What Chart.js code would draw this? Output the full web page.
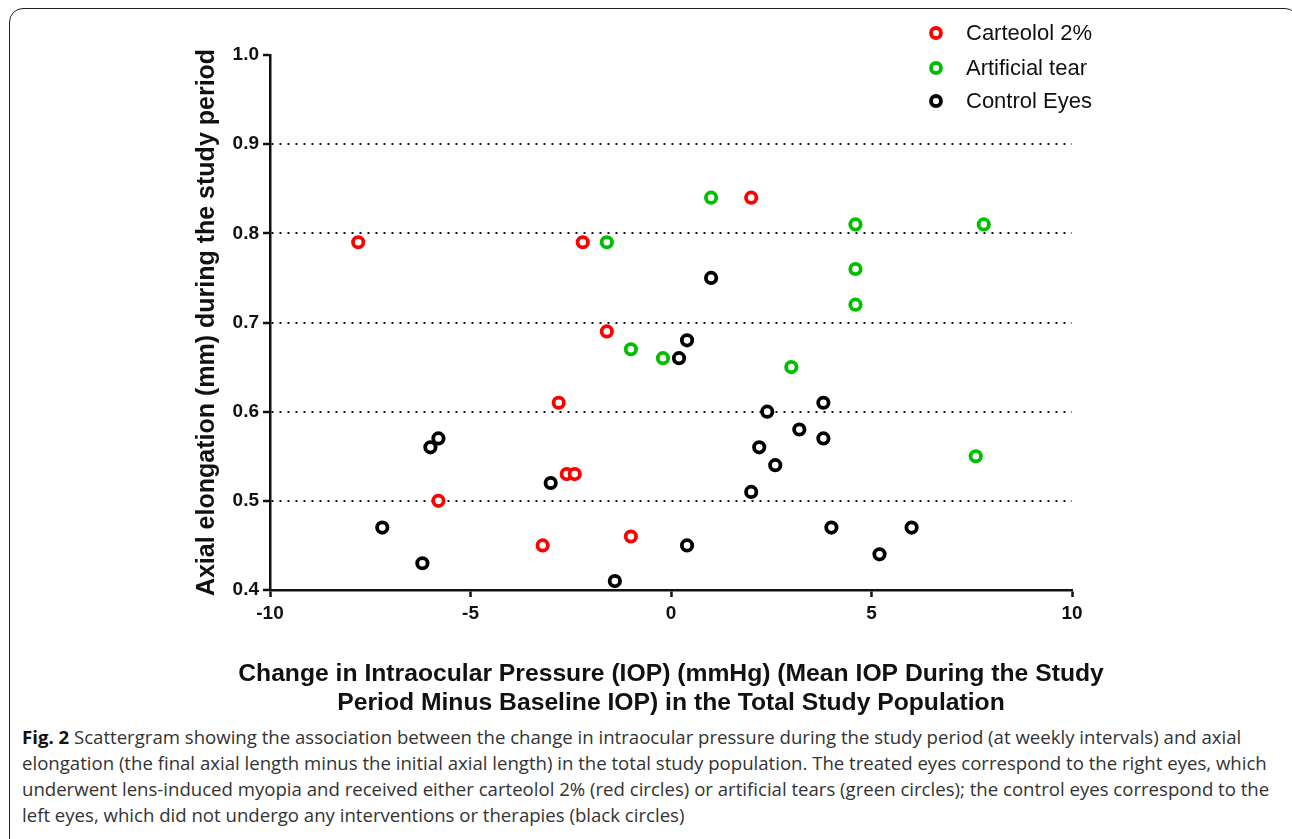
<!DOCTYPE html>
<html>
<head>
<meta charset="utf-8">
<script src="https://cdn.jsdelivr.net/npm/chart.js@4/dist/chart.umd.min.js"></script>
<style>
    body { margin: 0; background: #fff; width: 1292px; height: 839px; overflow: hidden; position: relative; }
    .frame { position: absolute; left: 9px; top: 8px; width: 1290px; height: 860px; border: 1.5px solid #222; border-radius: 14px; box-sizing: border-box; }
    .chart-box { position: absolute; left: 0; top: 0; width: 1292px; height: 720px; }
    .caption { position: absolute; left: 22px; top: 724px; font-family: 'Open Sans', sans-serif; font-size: 18.6px; line-height: 26px; color: #333; white-space: nowrap; }
    .caption b { color: #111; }
</style>
</head>
<body>
<div class="frame"></div>
<div class="chart-box"><canvas id="scatterChart"></canvas></div>
<div class="caption"><b>Fig. 2</b> Scattergram showing the association between the change in intraocular pressure during the study period (at weekly intervals) and axial<br>elongation (the final axial length minus the initial axial length) in the total study population. The treated eyes correspond to the right eyes, which<br>underwent lens-induced myopia and received either carteolol 2% (red circles) or artificial tears (green circles); the control eyes correspond to the<br>left eyes, which did not undergo any interventions or therapies (black circles)</div>
<script>
// change in IOP (mmHg) vs axial elongation (mm)
const carteololX = [-7.8, -2.2, 2.0, -1.6, -2.8, -2.6, -2.4, -5.8, -3.2, -1.0];
const carteololY = [0.79, 0.79, 0.84, 0.69, 0.61, 0.53, 0.53, 0.50, 0.45, 0.46];

const tearX = [1.0, -1.6, 4.6, 7.8, 4.6, 4.6, -1.0, -0.2, 3.0, 7.6];
const tearY = [0.84, 0.79, 0.81, 0.81, 0.76, 0.72, 0.67, 0.66, 0.65, 0.55];

const controlX = [1.0, 0.4, 0.2, 3.8, 2.4, 3.2, 2.2, 3.8, 2.6, 2.0, -6.0, -5.8, -3.0, -7.2, -6.2, -1.4, 0.4, 4.0, 5.2, 6.0];
const controlY = [0.75, 0.68, 0.66, 0.61, 0.60, 0.58, 0.56, 0.57, 0.54, 0.51, 0.56, 0.57, 0.52, 0.47, 0.43, 0.41, 0.45, 0.47, 0.44, 0.47];

const seriesNames = ['Carteolol 2%', 'Artificial tear', 'Control Eyes'];
const seriesColors = ['#ff0000', '#00bf00', '#000000'];

const xTitle = ['Change in Intraocular Pressure (IOP) (mmHg) (Mean IOP During the Study',
                'Period Minus Baseline IOP) in the Total Study Population'];
const yTitle = 'Axial elongation (mm) during the study period';

function toPoints(xs, ys) {
    return xs.map((x, i) => ({ x: x, y: ys[i] }));
}

function makeDataset(name, xs, ys, color) {
    return {
        label: name,
        data: toPoints(xs, ys),
        pointStyle: 'circle',
        pointRadius: 5.2,
        pointBorderWidth: 3.8,
        pointBackgroundColor: '#fff',
        pointBorderColor: color,
        pointHoverRadius: 5.2
    };
}

// legend drawn in the top right corner, overlapping the plot like the original
const cornerLegend = {
    id: 'cornerLegend',
    afterDraw(chart) {
        const ctx = chart.ctx;
        const area = chart.chartArea;
        const x0 = area.right - 136;
        const rows = [area.top - 22, area.top + 13, area.top + 46];
        ctx.save();
        ctx.font = '22px "Liberation Sans", Arial, sans-serif';
        ctx.textBaseline = 'middle';
        ctx.textAlign = 'left';
        chart.data.datasets.forEach((ds, i) => {
            ctx.beginPath();
            ctx.arc(x0, rows[i], 5, 0, Math.PI * 2);
            ctx.lineWidth = 3.8;
            ctx.strokeStyle = seriesColors[i];
            ctx.fillStyle = '#fff';
            ctx.fill();
            ctx.stroke();
            ctx.fillStyle = '#111';
            ctx.fillText(ds.label, x0 + 30, rows[i] + 1);
        });
        ctx.restore();
    }
};

// x axis title is wider than the plot, so the scale title would squeeze it
const wideXTitle = {
    id: 'wideXTitle',
    afterDraw(chart) {
        const ctx = chart.ctx;
        const area = chart.chartArea;
        const cx = (area.left + area.right) / 2;
        ctx.save();
        ctx.font = 'bold 24.7px "Liberation Sans", Arial, sans-serif';
        ctx.fillStyle = '#111';
        ctx.textAlign = 'center';
        ctx.textBaseline = 'middle';
        xTitle.forEach((line, i) => {
            ctx.fillText(line, cx, area.bottom + 84 + i * 29);
        });
        ctx.restore();
    }
};

const tickFont = { family: '"Liberation Sans", Arial, sans-serif', size: 19, weight: 'bold' };

new Chart(document.getElementById('scatterChart'), {
    type: 'scatter',
    data: {
        datasets: [
            makeDataset(seriesNames[0], carteololX, carteololY, seriesColors[0]),
            makeDataset(seriesNames[1], tearX, tearY, seriesColors[1]),
            makeDataset(seriesNames[2], controlX, controlY, seriesColors[2])
        ]
    },
    options: {
        responsive: true,
        maintainAspectRatio: false,
        animation: false,
        layout: {
            padding: { top: 55, right: 220, left: 180, bottom: 0 }
        },
        plugins: {
            legend: { display: false },
            tooltip: { enabled: false }
        },
        scales: {
            x: {
                type: 'linear',
                min: -10,
                max: 10,
                afterFit: s => { s.height = 130; },
                ticks: {
                    stepSize: 5,
                    color: '#111',
                    font: tickFont,
                    padding: 5
                },
                grid: {
                    drawOnChartArea: false,
                    drawTicks: true,
                    tickLength: 7,
                    tickColor: '#111',
                    tickWidth: 2.5
                },
                border: { color: '#111', width: 2.5 },
                title: { display: false }
            },
            y: {
                type: 'linear',
                min: 0.4,
                max: 1.0,
                afterFit: s => { s.width = 90; },
                ticks: {
                    stepSize: 0.1,
                    color: '#111',
                    font: tickFont,
                    padding: 4,
                    callback: v => v.toFixed(1)
                },
                grid: {
                    color: c => (c.tick && (Math.abs(c.tick.value - 1.0) < 1e-6 || Math.abs(c.tick.value - 0.4) < 1e-6)) ? 'rgba(0,0,0,0)' : '#111',
                    lineWidth: 2,
                    drawTicks: true,
                    tickLength: 7,
                    tickColor: '#111',
                    tickWidth: 2.5,
                    tickBorderDash: []
                },
                border: { color: '#111', width: 2.5, dash: [2, 6] },
                title: {
                    display: true,
                    text: yTitle,
                    color: '#111',
                    font: { family: '"Liberation Sans", Arial, sans-serif', size: 25, weight: 'bold' },
                    padding: { top: 12, bottom: 0 }
                }
            }
        }
    },
    plugins: [cornerLegend, wideXTitle]
});
</script>
</body>
</html>
